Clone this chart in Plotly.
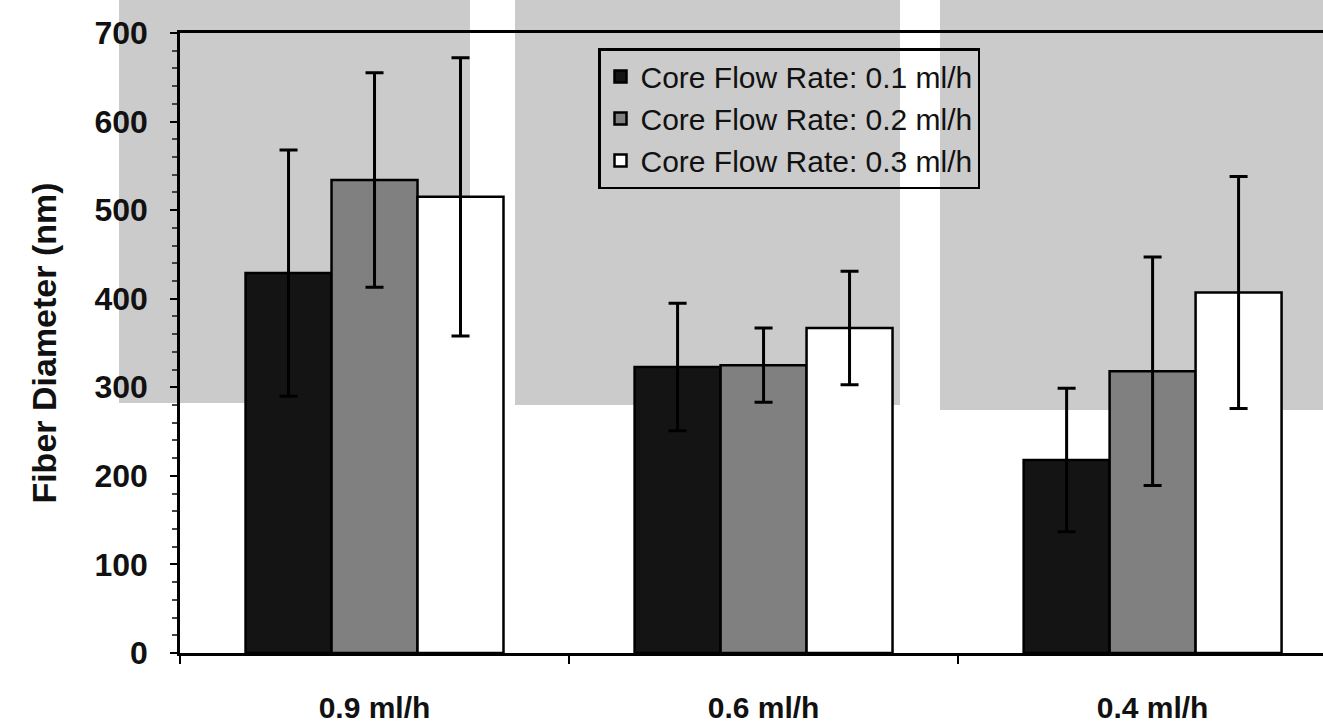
import plotly.graph_objects as go

categories = ["0.9 ml/h", "0.6 ml/h", "0.4 ml/h"]
series_names = ["Core Flow Rate: 0.1 ml/h", "Core Flow Rate: 0.2 ml/h", "Core Flow Rate: 0.3 ml/h"]
values_01 = [429, 323, 218]
values_02 = [534, 325, 318]
values_03 = [515, 367, 407]
errors_01 = [139, 72, 81]
errors_02 = [121, 42, 129]
errors_03 = [157, 64, 131]

fill_colors = ["#141414", "#808080", "#ffffff"]

regular = "Liberation Sans, Arial, sans-serif"

fig = go.Figure()
for name, vals, errs, col in zip(series_names,
                                 [values_01, values_02, values_03],
                                 [errors_01, errors_02, errors_03],
                                 fill_colors):
    fig.add_trace(go.Bar(
        x=categories, y=vals, name=name,
        marker=dict(color=col, line=dict(color="#000000", width=2.5)),
        error_y=dict(type="data", array=errs, visible=True,
                     color="#000000", thickness=3, width=9),
    ))

# scanned-page background panels (decorative)
L, R, T, B = 180, 1323, 33, 653
def px_x(p):
    return (p - L) / (R - L)
def px_y(p):
    return (B - p) / (B - T)
panels = [(119, 470, 0, 403), (515, 900, 0, 405), (940, 1330, 0, 410)]
for x0, x1, y0, y1 in panels:
    fig.add_shape(type="rect", xref="paper", yref="paper",
                  x0=px_x(x0), x1=px_x(x1), y0=px_y(y1), y1=px_y(y0),
                  fillcolor="#cbcbcb", line=dict(width=0), layer="below")

fig.update_layout(
    width=1323, height=724,
    margin=dict(l=L, r=0, t=T, b=724 - B),
    paper_bgcolor="#ffffff",
    plot_bgcolor="rgba(0,0,0,0)",
    barmode="group",
    bargap=0.337,
    bargroupgap=0,
    showlegend=True,
    legend=dict(
        x=px_x(598), y=px_y(48), xanchor="left", yanchor="top",
        bgcolor="rgba(0,0,0,0)", bordercolor="#000000", borderwidth=2.5,
        font=dict(family=regular, size=30, color="#111111"),
        traceorder="normal", itemwidth=30, tracegroupgap=0,
    ),
    xaxis=dict(
        range=[-0.5, 2.438],
        showline=True, linecolor="#000000", linewidth=2.5, mirror=True,
        ticks="outside", tickson="boundaries", ticklen=8, tickcolor="#000000", tickwidth=2,
        tickfont=dict(family=regular, size=30, color="#111111", weight="bold"),
        ticklabelstandoff=26,
        showgrid=False, zeroline=False,
    ),
    yaxis=dict(
        range=[0, 700], dtick=100,
        showline=True, linecolor="#000000", linewidth=2.5,
        ticks="outside", ticklen=7, tickcolor="#000000", tickwidth=2,
        minor=dict(dtick=20, ticks="outside", ticklen=5, tickcolor="#444444", tickwidth=1.5),
        tickfont=dict(family=regular, size=32, color="#111111", weight="bold"),
        ticklabelstandoff=16,
        showgrid=False, zeroline=False,
        title=dict(text="<b>Fiber Diameter (nm)</b>",
                   font=dict(family=regular, size=34, color="#111111"), standoff=28),
    ),
)

fig.write_html("out.html")
